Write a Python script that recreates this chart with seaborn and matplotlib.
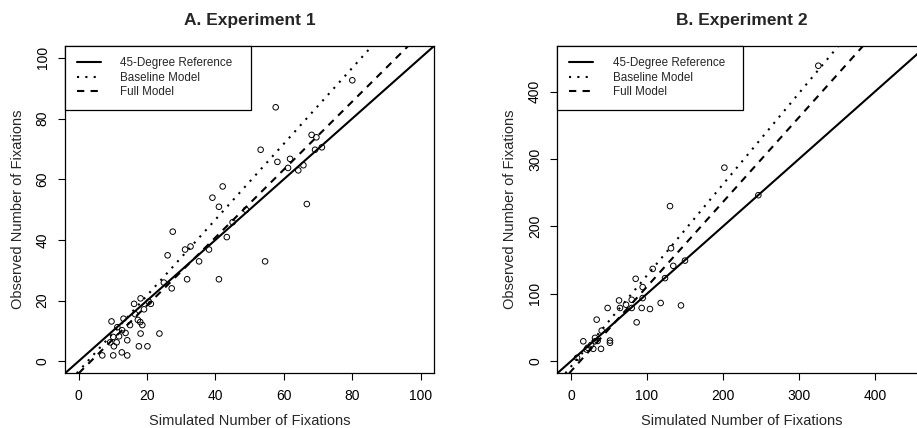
import matplotlib
matplotlib.use("Agg")
import matplotlib.pyplot as plt
from matplotlib.lines import Line2D
import seaborn as sns

# ---- Experiment 1: simulated vs observed fixation counts per item ----
exp1_sim = [80.0, 57.6, 68.1, 69.5, 69.1, 71.1, 53.2, 58.1, 61.8, 61.2, 64.2, 65.7,
            66.7, 42.1, 39.1, 41.0, 48.9, 45.0, 43.3, 38.1, 35.2, 31.1, 32.7, 27.5,
            26.0, 54.5, 31.7, 41.0, 24.9, 27.2, 23.6, 18.1, 16.2, 21.1, 19.1, 9.6,
            13.1, 17.3, 18.0, 18.6, 15.0, 11.3, 12.7, 13.7, 18.1, 11.8, 10.1, 14.2,
            11.1, 9.2, 10.3, 17.6, 20.1, 6.9, 10.1, 12.6, 14.2, 16.5, 20.5]
exp1_obs = [92.6, 83.7, 74.6, 73.8, 69.7, 70.5, 69.7, 65.7, 66.7, 63.7, 62.9, 64.6,
            51.8, 57.6, 53.9, 50.9, 49.9, 45.8, 40.9, 36.8, 32.9, 36.8, 37.8, 42.7,
            34.9, 32.9, 27.0, 27.0, 25.9, 24.0, 9.1, 20.7, 18.9, 18.9, 17.1, 13.1,
            14.0, 13.6, 12.9, 11.9, 11.9, 11.2, 10.2, 9.3, 9.1, 8.2, 8.0, 6.9,
            6.2, 6.2, 4.9, 4.9, 4.9, 1.9, 1.9, 2.9, 1.9, 15.5, 19.6]

# ---- Experiment 2 ----
exp2_sim = [325.4, 201.8, 130.3, 246.5, 131.6, 107.5, 134.6, 150.0, 123.7, 85.1,
            94.3, 94.3, 63.2, 79.9, 72.4, 64.5, 48.2, 79.9, 93.0, 103.9, 118.0,
            144.7, 86.4, 33.8, 40.4, 16.2, 51.3, 51.3, 29.3, 39.5, 20.6, 31.6,
            31.6, 26.5, 35.0, 22.0, 8.0]
exp2_obs = [438.3, 287.1, 230.0, 246.2, 167.5, 136.9, 141.4, 149.2, 123.2, 122.2,
            109.9, 93.6, 90.1, 91.1, 83.8, 78.9, 78.9, 78.9, 78.9, 77.4, 86.3,
            82.7, 57.6, 61.6, 45.3, 29.5, 30.6, 27.2, 18.3, 18.3, 17.3, 29.5,
            34.6, 24.0, 30.0, 20.0, 5.0]

# Fitted model lines: (intercept, slope)
exp1_baseline = (-3.3, 1.25)
exp1_full = (-4.0, 1.12)
exp2_baseline = (-8.0, 1.352)
exp2_full = (-15.0, 1.256)

panel_titles = ["A. Experiment 1", "B. Experiment 2"]
exp1_ticks = [0, 20, 40, 60, 80, 100]
exp2_ticks = [0, 100, 200, 300, 400]
exp1_range = (0, 100)
exp2_range = (0, 450)
legend_labels = ["45-Degree Reference", "Baseline Model", "Full Model"]

sns.set_theme(style="ticks")
plt.rcParams["font.family"] = ["Liberation Sans", "DejaVu Sans"]

W, H = 917, 428
fig = plt.figure(figsize=(W / 100, H / 100), dpi=100)

LW = 1.5
DOT = (0, (1, 3))
DASH = (0, (3.5, 3.0))


def padded(r):
    span = r[1] - r[0]
    return (r[0] - 0.04 * span, r[1] + 0.04 * span)


def panel(rect, sim, obs, base, full, ticks, rng, title):
    ax = fig.add_axes(rect)
    lim = padded(rng)
    ax.set_xlim(lim)
    ax.set_ylim(lim)

    ax.axline((0, 0), slope=1, color="black", lw=LW, solid_capstyle="butt")
    ax.axline((0, base[0]), slope=base[1], color="black", lw=LW, linestyle=DOT)
    ax.axline((0, full[0]), slope=full[1], color="black", lw=LW, linestyle=DASH)

    sns.scatterplot(x=sim, y=obs, ax=ax, marker="o", s=16,
                    facecolors="none", edgecolor="black", linewidth=0.7,
                    legend=False, zorder=3)

    ax.set_xticks(ticks)
    ax.set_yticks(ticks)
    ax.tick_params(direction="out", length=5, width=0.8, pad=6,
                   labelsize=10, color="black", labelcolor="black")
    ax.tick_params(axis="y", labelrotation=90)
    for lab in ax.get_yticklabels():
        lab.set_va("center")
    for s in ax.spines.values():
        s.set_visible(True)
        s.set_color("black")
        s.set_linewidth(0.9)

    ax.set_title(title, fontsize=12.5, fontweight="bold", pad=15)
    ax.set_xlabel("Simulated Number of Fixations", fontsize=10.5, labelpad=8)
    ax.set_ylabel("Observed Number of Fixations", fontsize=10.5, labelpad=8)

    handles = [Line2D([], [], color="black", lw=LW),
               Line2D([], [], color="black", lw=LW, linestyle=DOT),
               Line2D([], [], color="black", lw=LW, linestyle=DASH)]
    leg = ax.legend(handles, legend_labels, loc="upper left",
                    bbox_to_anchor=(0, 1, 0.503, 0), mode="expand",
                    borderaxespad=0, fancybox=False, edgecolor="black",
                    framealpha=1, fontsize=8.4, handlelength=2.05,
                    handletextpad=1.7, borderpad=1.0, labelspacing=0.2)
    leg.get_frame().set_linewidth(0.9)
    return ax


bottom = 1 - 373.3 / H
height = (373.3 - 45.7) / H
width = 369.4 / W

panel([65 / W, bottom, width, height], exp1_sim, exp1_obs, exp1_baseline,
      exp1_full, exp1_ticks, exp1_range, panel_titles[0])
panel([557.3 / W, bottom, width, height], exp2_sim, exp2_obs, exp2_baseline,
      exp2_full, exp2_ticks, exp2_range, panel_titles[1])

fig.savefig("out.png", dpi=100, facecolor="white")
